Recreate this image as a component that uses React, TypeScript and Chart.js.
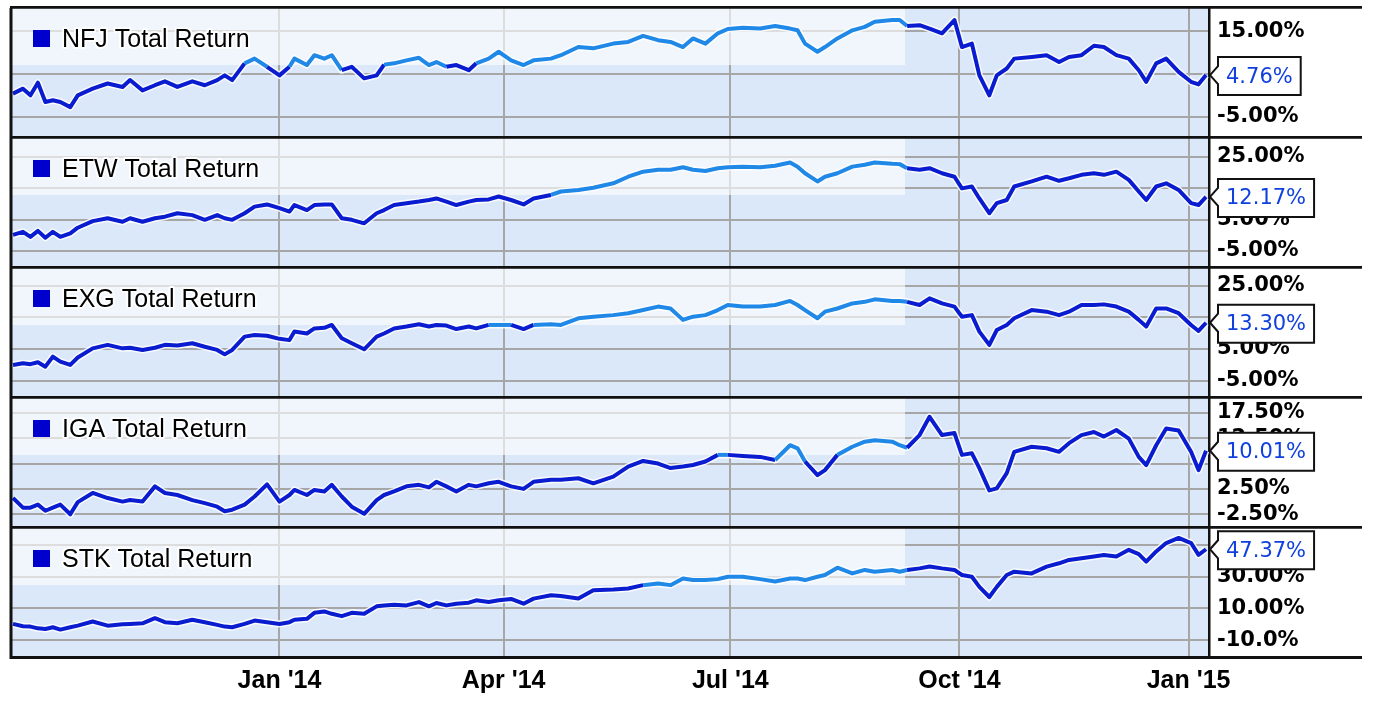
import React, { useEffect, useRef } from 'react';
import { Chart, registerables } from 'chart.js';

Chart.register(...registerables);

// sample positions, in days from 1 Jan 2014
const days = [
  -107, -103, -100, -97, -94, -91, -88, -84, -81, -75,
  -69, -63, -60, -55, -50, -46, -41, -35, -30, -25,
  -22, -19, -14, -10, -5, 0, 4, 6, 11, 14,
  18, 21, 25, 29, 34, 39, 42, 46, 51, 56,
  60, 63, 67, 71, 76, 79, 84, 88, 93, 98,
  102, 109, 113, 120, 126, 134, 140, 146, 152, 157,
  162, 166, 171, 176, 180, 186, 193, 199, 205, 208,
  211, 216, 219, 224, 230, 235, 239, 246, 249, 252,
  257, 261, 266, 271, 274, 278, 281, 285, 288, 292,
  295, 302, 308, 313, 317, 322, 327, 331, 336, 341,
  345, 348, 352, 356, 361, 366, 369, 372,
];

// total return, %
const nfjReturn = [
  0.45, 1.6, 0.05, 3.0, -1.5, -1.1, -1.5, -2.7, 0.05, 1.6,
  2.8, 2.0, 3.6, 1.2, 2.4, 3.3, 2.0, 3.3, 2.4, 3.6,
  4.7, 3.6, 7.5, 8.6, 6.7, 4.7, 6.7, 8.6, 7.1, 9.4,
  8.6, 9.4, 5.9, 6.7, 4.0, 4.7, 7.2, 7.5, 8.2, 8.8,
  7.1, 7.8, 6.7, 7.1, 5.9, 7.5, 8.6, 10.2, 8.2, 7.1,
  8.2, 8.6, 9.4, 11.3, 11.0, 12.1, 12.5, 13.9, 12.9, 12.5,
  11.3, 13.3, 12.1, 14.5, 15.5, 15.8, 15.6, 16.2, 15.6, 15.2,
  12.1, 10.2, 11.3, 13.3, 15.2, 16.0, 17.2, 17.6, 17.6, 16.2,
  16.4, 15.6, 14.5, 17.6, 11.3, 12.1, 4.7, 0.05, 4.7, 6.3,
  8.6, 9.0, 9.4, 7.8, 9.0, 9.4, 11.6, 11.3, 9.4, 8.6,
  5.9, 3.2, 7.5, 8.6, 5.5, 3.2, 2.6, 4.76,
];

const etwReturn = [
  0.1, 1.1, -0.5, 1.4, -0.8, 1.1, -0.5, 0.6, 2.4, 4.5,
  5.4, 4.3, 5.4, 4.3, 5.4, 5.9, 7.0, 6.4, 4.9, 6.4,
  5.4, 4.9, 7.0, 9.1, 9.8, 8.6, 7.5, 9.6, 8.0, 9.6,
  9.8, 9.8, 5.4, 4.9, 3.8, 7.0, 8.0, 9.6, 10.2, 10.7,
  11.2, 11.7, 10.7, 9.6, 10.7, 11.2, 11.4, 12.3, 11.2, 9.8,
  11.7, 12.8, 13.9, 14.4, 15.1, 16.5, 18.6, 20.2, 20.8, 20.8,
  21.6, 20.8, 20.4, 21.3, 21.6, 21.8, 21.6, 22.1, 23.1, 21.8,
  19.7, 17.1, 18.6, 19.7, 21.8, 22.4, 23.1, 22.7, 22.6, 21.3,
  20.8, 21.3, 19.7, 18.6, 14.9, 15.5, 11.7, 7.0, 10.2, 11.2,
  15.5, 17.1, 18.6, 17.3, 18.1, 19.2, 19.7, 19.2, 20.2, 17.6,
  13.9, 11.2, 15.5, 16.5, 14.4, 10.2, 9.6, 12.17,
];

const exgReturn = [
  -0.05, 0.5, 0.2, 0.8, -0.6, 2.6, 1.0, -0.05, 2.3, 5.2,
  6.3, 5.2, 5.4, 4.7, 5.4, 6.3, 6.1, 6.8, 5.7, 4.7,
  3.3, 4.7, 8.9, 9.4, 9.2, 8.2, 7.8, 10.5, 9.9, 11.5,
  11.7, 12.6, 8.4, 6.8, 4.9, 8.9, 9.9, 11.5, 12.1, 12.8,
  12.1, 12.6, 12.4, 11.3, 12.1, 11.5, 12.6, 12.6, 12.6, 11.3,
  12.6, 12.8, 12.6, 14.7, 15.2, 15.7, 16.3, 17.3, 18.4, 17.8,
  14.2, 15.2, 15.7, 17.3, 18.9, 18.4, 18.4, 18.9, 20.2, 18.9,
  17.3, 14.7, 16.8, 17.8, 19.4, 19.9, 20.7, 20.2, 20.2, 19.9,
  18.9, 21.0, 19.4, 18.4, 15.2, 15.7, 10.5, 6.3, 11.0, 12.6,
  14.7, 17.3, 16.8, 15.7, 16.8, 18.9, 18.9, 19.1, 18.4, 16.8,
  14.2, 12.1, 17.8, 17.8, 16.3, 12.6, 10.7, 13.3,
];

const igaReturn = [
  0.7, -1.2, -1.2, -0.6, -1.8, -1.2, -0.6, -2.5, -0.1, 1.7,
  0.7, 0.0, 0.3, 0.0, 3.0, 1.7, 1.3, 0.3, -0.3, -1.0,
  -1.9, -1.6, -0.6, 1.0, 3.4, 0.0, 1.3, 2.3, 1.3, 2.3,
  2.0, 3.3, 1.0, -1.0, -2.4, 0.3, 1.3, 2.0, 3.0, 3.3,
  2.8, 3.9, 3.0, 2.0, 3.3, 3.0, 3.6, 3.9, 3.0, 2.5,
  3.9, 4.3, 4.3, 4.6, 3.6, 4.9, 6.9, 8.0, 7.5, 6.6,
  6.9, 7.2, 7.9, 9.2, 9.2, 9.0, 8.8, 8.2, 11.1, 10.5,
  7.9, 5.2, 6.2, 9.2, 10.8, 11.8, 12.1, 11.8, 11.1, 10.6,
  13.1, 16.7, 13.1, 13.5, 9.2, 9.5, 6.6, 2.2, 2.6, 5.6,
  9.8, 10.8, 10.5, 9.8, 11.5, 13.1, 13.7, 12.8, 14.1, 12.4,
  8.8, 7.2, 11.1, 14.4, 14.0, 9.8, 6.2, 10.01,
];

const stkReturn = [
  0.2, -1.3, -1.5, -2.6, -3.0, -1.9, -3.4, -1.9, -0.9, 1.7,
  -0.9, 0.0, 0.2, 0.6, 3.8, 1.3, 0.6, 2.8, 1.3, -0.4,
  -1.5, -1.9, 0.2, 2.3, 1.3, 0.2, 1.3, 2.8, 3.4, 7.2,
  8.1, 6.6, 5.1, 7.2, 6.6, 11.3, 11.9, 12.3, 11.9, 14.0,
  11.3, 13.4, 11.9, 13.0, 13.6, 15.1, 14.0, 15.1, 16.0, 13.0,
  16.2, 18.3, 17.9, 16.2, 21.5, 22.0, 22.6, 24.7, 25.7, 24.7,
  28.9, 27.9, 27.9, 28.5, 30.0, 30.0, 28.5, 27.0, 28.9, 28.9,
  27.9, 30.0, 31.1, 35.7, 32.1, 34.3, 33.2, 34.3, 33.2, 34.3,
  35.3, 36.5, 35.3, 34.3, 31.1, 30.0, 23.6, 17.2, 23.6, 31.1,
  33.2, 32.1, 36.4, 38.5, 40.6, 41.7, 42.8, 43.8, 42.8, 47.0,
  44.3, 39.6, 46.0, 51.3, 54.5, 51.3, 43.8, 47.37,
];

const seriesNames = ['NFJ Total Return', 'ETW Total Return', 'EXG Total Return', 'IGA Total Return', 'STK Total Return'];

const monthTicks = [0, 90, 181, 273, 365];
const monthLabels = ["Jan '14", "Apr '14", "Jul '14", "Oct '14", "Jan '15"];

const nfjTicks = [-5, 5, 15];
const etwTicks = [-5, 5, 15, 25];
const exgTicks = [-5, 5, 15, 25];
const igaTicks = [-2.5, 2.5, 7.5, 12.5, 17.5];
const stkTicks = [-10, 10, 30, 50];

const panels = [
  { name: seriesNames[0], values: nfjReturn, ticks: nfjTicks, min: -9.9, max: 20.4 },
  { name: seriesNames[1], values: etwReturn, ticks: etwTicks, min: -10.4, max: 30.9 },
  { name: seriesNames[2], values: exgReturn, ticks: exgTicks, min: -10.5, max: 30.6 },
  { name: seriesNames[3], values: igaReturn, ticks: igaTicks, min: -5.2, max: 20.4 },
  { name: seriesNames[4], values: stkReturn, ticks: stkTicks, min: -20.7, max: 60.8 },
];

const DARK = '#0a1cd0';
const LIGHT = '#2088e6';
const PLOT_BG = '#dbe8f9';
const PANEL_H = 130;
const OVERLAY_W = 893;
const OVERLAY_H = 57;

function fmtPct(v: number) {
  const s = v.toFixed(2) + '%';
  return s.length > 6 ? v.toFixed(1) + '%' : s;
}

function decorPlugin(name: string, isLast: boolean) {
  return {
    id: 'panelDecor',
    beforeDraw(chart: any) {
      const { ctx, chartArea: a } = chart;
      ctx.save();
      ctx.fillStyle = PLOT_BG;
      ctx.fillRect(a.left, a.top, a.right - a.left, a.bottom - a.top);
      ctx.restore();
    },
    beforeDatasetsDraw(chart: any) {
      // pale box behind the legend
      const { ctx, chartArea: a } = chart;
      ctx.save();
      ctx.fillStyle = 'rgba(255,255,255,0.62)';
      ctx.fillRect(a.left, a.top, OVERLAY_W, OVERLAY_H);
      ctx.restore();
    },
    afterDatasetsDraw(chart: any) {
      const { ctx, chartArea: a } = chart;
      ctx.save();
      ctx.fillStyle = '#0000cc';
      ctx.fillRect(a.left + 21, a.top + 22, 17, 17);
      ctx.font = '25px "Liberation Sans"';
      ctx.textBaseline = 'alphabetic';
      ctx.lineJoin = 'round';
      ctx.lineWidth = 4;
      ctx.strokeStyle = 'rgba(255,255,255,0.9)';
      ctx.strokeText(name, a.left + 50, a.top + 39);
      ctx.fillStyle = '#000';
      ctx.fillText(name, a.left + 50, a.top + 39);
      ctx.restore();
    },
    afterDraw(chart: any) {
      const { ctx, chartArea: a } = chart;
      ctx.save();
      ctx.strokeStyle = '#111';
      ctx.lineWidth = 3;
      ctx.beginPath();
      ctx.moveTo(10, a.top - 0.8);
      ctx.lineTo(1362, a.top - 0.8);
      if (isLast) {
        ctx.moveTo(10, a.bottom + 0.5);
        ctx.lineTo(1362, a.bottom + 0.5);
      }
      ctx.moveTo(11, a.top);
      ctx.lineTo(11, a.bottom + 2);
      ctx.stroke();

      // last-value callout
      const meta = chart.getDatasetMeta(0);
      const pt = meta.data[meta.data.length - 1];
      const vals = chart.data.datasets[0].data;
      const label = vals[vals.length - 1].y.toFixed(2) + '%';
      ctx.font = '21px "DejaVu Sans"';
      const tw = ctx.measureText(label).width;
      const bx = a.right + 9;
      const bw = tw + 16;
      const bh = 38;
      const by = pt.y - bh / 2 + 1;
      ctx.beginPath();
      ctx.moveTo(a.right + 1, pt.y);
      ctx.lineTo(bx, pt.y - 9);
      ctx.lineTo(bx, by);
      ctx.lineTo(bx + bw, by);
      ctx.lineTo(bx + bw, by + bh);
      ctx.lineTo(bx, by + bh);
      ctx.lineTo(bx, pt.y + 9);
      ctx.closePath();
      ctx.fillStyle = '#fff';
      ctx.fill();
      ctx.lineWidth = 2;
      ctx.strokeStyle = '#111';
      ctx.stroke();
      ctx.fillStyle = '#1040dd';
      ctx.textBaseline = 'middle';
      ctx.fillText(label, bx + 8, by + bh / 2 + 1);
      ctx.restore();
    },
  };
}

function buildConfig(p: typeof panels[number], isLast: boolean): any {
  const pts = days.map((d, i) => ({ x: d, y: p.values[i] }));
  return {
    type: 'line',
    data: {
      datasets: [
        {
          data: pts,
          borderColor: DARK,
          borderWidth: 4,
          pointRadius: 0,
          tension: 0,
          borderJoinStyle: 'round',
          segment: {
            borderColor: (c: any) => {
              const a = c.chart.chartArea;
              const mx = (c.p0.x + c.p1.x) / 2;
              const my = (c.p0.y + c.p1.y) / 2;
              return mx < a.left + OVERLAY_W && my < a.top + OVERLAY_H ? LIGHT : undefined;
            },
          },
        },
        {
          data: pts,
          borderColor: 'rgba(255,255,255,0.85)',
          borderWidth: 7,
          pointRadius: 0,
          tension: 0,
          borderJoinStyle: 'round',
        },
      ],
    },
    options: {
      responsive: false,
      animation: false,
      events: [],
      layout: { autoPadding: false, padding: { left: 12, right: 0, top: 2, bottom: 0 } },
      plugins: { legend: { display: false }, tooltip: { enabled: false } },
      scales: {
        x: {
          type: 'linear',
          min: -107.4,
          max: 373.2,
          afterBuildTicks: (s: any) => { s.ticks = monthTicks.map((v) => ({ value: v })); },
          afterFit: (s: any) => {
            s.height = isLast ? 51 : 0;
            s.paddingLeft = 0;
            s.paddingRight = 0;
          },
          grid: { color: '#a6a6a6', lineWidth: 2, drawTicks: false },
          border: { display: false },
          ticks: {
            display: isLast,
            autoSkip: false,
            maxRotation: 0,
            padding: 9,
            color: '#000',
            font: { family: 'Liberation Sans', size: 25, weight: 'bold' },
            callback: (v: number) => monthLabels[monthTicks.indexOf(v)],
          },
        },
        y: {
          type: 'linear',
          position: 'right',
          min: p.min,
          max: p.max,
          afterBuildTicks: (s: any) => { s.ticks = p.ticks.map((v) => ({ value: v })); },
          afterFit: (s: any) => {
            s.width = 167;
            s.paddingTop = 0;
            s.paddingBottom = 0;
          },
          grid: { color: '#a6a6a6', lineWidth: 2, drawTicks: false },
          border: { display: true, color: '#111', width: 2.5 },
          ticks: {
            autoSkip: false,
            padding: 8,
            color: '#000',
            font: { family: 'DejaVu Sans', size: 21, weight: 'bold' },
            callback: (v: number) => fmtPct(v),
          },
        },
      },
    },
    plugins: [decorPlugin(p.name, isLast)],
  };
}

export default function App() {
  const canvasRefs = useRef<(HTMLCanvasElement | null)[]>([]);

  useEffect(() => {
    const charts = panels.map((p, i) => {
      const canvas = canvasRefs.current[i];
      if (!canvas) return null;
      return new Chart(canvas, buildConfig(p, i === panels.length - 1));
    });
    return () => {
      charts.forEach((c) => c?.destroy());
    };
  }, []);

  return (
    <div style={{ position: 'fixed', left: 0, top: 0, width: 1376, height: 708, background: '#fff' }}>
      {panels.map((p, i) => {
        const last = i === panels.length - 1;
        const h = last ? 182 : 132;
        return (
          <canvas
            key={p.name}
            ref={(el) => { canvasRefs.current[i] = el; }}
            width={1376}
            height={h}
            style={{ position: 'absolute', left: 0, top: 6 + i * PANEL_H, width: 1376, height: h }}
          />
        );
      })}
    </div>
  );
}
